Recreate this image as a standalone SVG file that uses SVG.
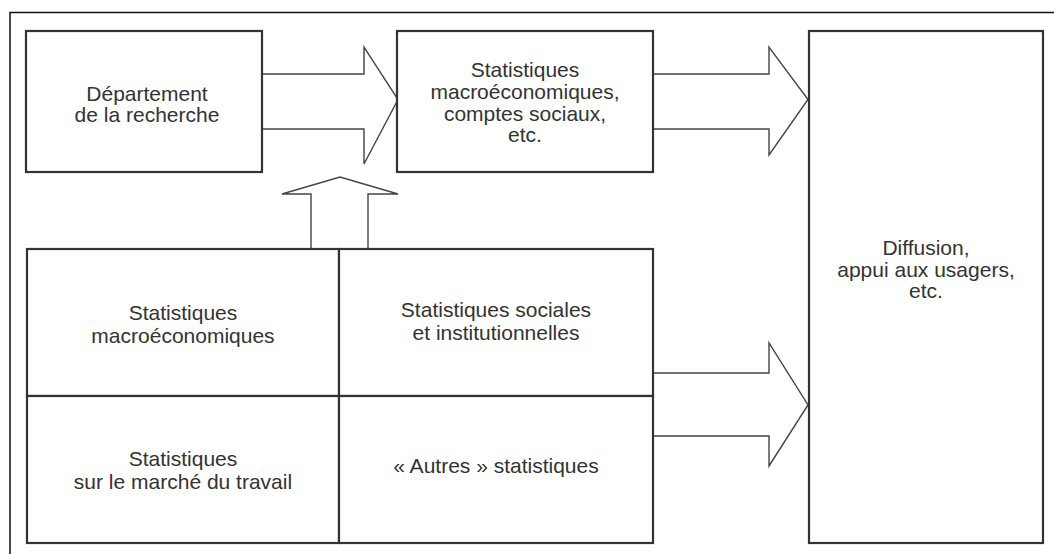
<svg xmlns="http://www.w3.org/2000/svg" width="1054" height="554" viewBox="0 0 1054 554">
  <style>
    .box { fill: #ffffff; stroke: #333333; stroke-width: 2.2; }
    .arrow { fill: #ffffff; stroke: #444444; stroke-width: 1.4; stroke-linejoin: miter; }
    .frame { fill: none; stroke: #111111; stroke-width: 1.5; }
    .lbl { font-family: "Liberation Sans", Arial, sans-serif; font-size: 21px; fill: #333333; text-anchor: middle; }
  </style>
  <rect x="0" y="0" width="1054" height="554" fill="#ffffff"/>
  <polyline class="frame" points="10,554 10,12.5 1054,12.5"/>

  <g id="connectors">
    <path class="arrow" d="M262,74 H364 V47 L398,99.5 L364,164 V129 H262"/>
    <path class="arrow" d="M653,74 H769 V47 L808,99.5 L769,155 V129 H653"/>
    <path class="arrow" d="M311,249 V194 H282 L340,177 L398,194 H368 V249"/>
    <path class="arrow" d="M653,373 H769 V343 L808,405 L769,466 V436 H653"/>
  </g>

  <g id="node-recherche">
    <rect class="box" x="26" y="31" width="236" height="141"/>
    <text class="lbl" x="147" y="101">Département</text>
    <text class="lbl" x="147" y="122">de la recherche</text>
  </g>

  <g id="node-macro-comptes">
    <rect class="box" x="397" y="31" width="256" height="141"/>
    <text class="lbl" x="525" y="77">Statistiques</text>
    <text class="lbl" x="525" y="99">macroéconomiques,</text>
    <text class="lbl" x="525" y="121">comptes sociaux,</text>
    <text class="lbl" x="525" y="142">etc.</text>
  </g>

  <g id="node-diffusion">
    <rect class="box" x="809" y="31" width="234" height="512"/>
    <text class="lbl" x="926" y="255">Diffusion,</text>
    <text class="lbl" x="926" y="277">appui aux usagers,</text>
    <text class="lbl" x="926" y="298">etc.</text>
  </g>

  <g id="node-stat-macro">
    <rect class="box" x="27" y="249" width="312" height="147"/>
    <text class="lbl" x="183" y="320">Statistiques</text>
    <text class="lbl" x="183" y="343">macroéconomiques</text>
  </g>

  <g id="node-stat-sociales">
    <rect class="box" x="339" y="249" width="314" height="147"/>
    <text class="lbl" x="496" y="317">Statistiques sociales</text>
    <text class="lbl" x="496" y="340">et institutionnelles</text>
  </g>

  <g id="node-stat-travail">
    <rect class="box" x="27" y="396" width="312" height="147"/>
    <text class="lbl" x="183" y="466">Statistiques</text>
    <text class="lbl" x="183" y="489">sur le marché du travail</text>
  </g>

  <g id="node-stat-autres">
    <rect class="box" x="339" y="396" width="314" height="147"/>
    <text class="lbl" x="496" y="473">« Autres » statistiques</text>
  </g>
</svg>
